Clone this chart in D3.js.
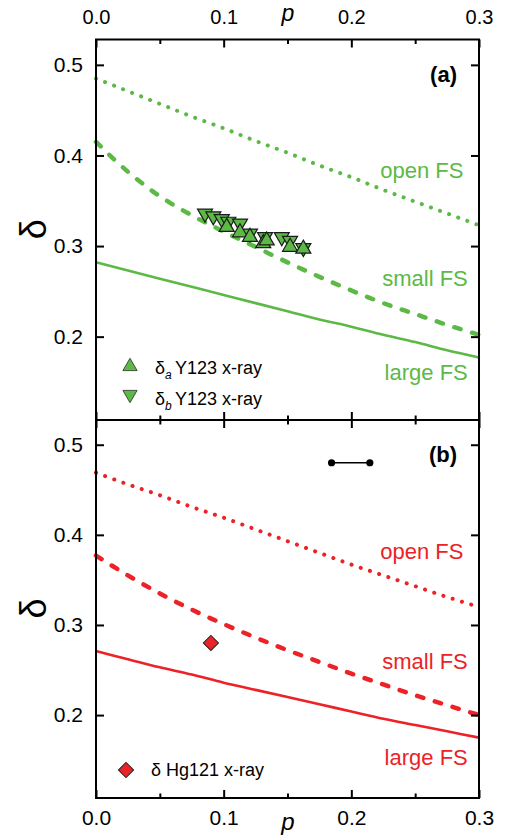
<!DOCTYPE html>
<html>
<head>
<meta charset="utf-8">
<script src="https://cdn.jsdelivr.net/npm/d3@7"></script>
<style>
  html, body { margin: 0; padding: 0; background: #fff; }
  svg text { font-family: "Liberation Sans", Arial, sans-serif; }
</style>
</head>
<body>
<svg id="chart" width="505" height="840"></svg>
<script>
// ---------------- data ----------------
const pGrid = [0, 0.025, 0.05, 0.075, 0.1, 0.125, 0.15, 0.175, 0.2, 0.225, 0.25, 0.275, 0.3];

// panel (a) – Y123 (green)
const greenOpenFS  = [0.485, 0.471, 0.457, 0.443, 0.430, 0.416, 0.403, 0.389, 0.376, 0.362, 0.349, 0.336, 0.323];
const greenSmallFS = [0.415, 0.382, 0.355, 0.334, 0.316, 0.299, 0.282, 0.266, 0.251, 0.237, 0.225, 0.213, 0.202];
const greenLargeFS = [0.282, 0.273, 0.264, 0.255, 0.246, 0.237, 0.228, 0.219, 0.211, 0.202, 0.194, 0.185, 0.177];

const y123A_p = [0.1024, 0.1128, 0.1206, 0.1310, 0.1337, 0.1520, 0.1624];
const y123A_d = [0.321, 0.315, 0.310, 0.303, 0.306, 0.299, 0.297];
const y123B_p = [0.0854, 0.0919, 0.0985, 0.1036, 0.1128, 0.1206, 0.1324, 0.1455, 0.1520, 0.1624];
const y123B_d = [0.336, 0.333, 0.330, 0.327, 0.325, 0.314, 0.310, 0.310, 0.306, 0.298];

// panel (b) – Hg121 (red)
const redOpenFS  = [0.469, 0.456, 0.444, 0.431, 0.419, 0.406, 0.393, 0.380, 0.367, 0.355, 0.343, 0.331, 0.320];
const redSmallFS = [0.377, 0.355, 0.335, 0.317, 0.301, 0.286, 0.272, 0.259, 0.246, 0.234, 0.222, 0.211, 0.200];
const redLargeFS = [0.271, 0.262, 0.253, 0.245, 0.236, 0.228, 0.220, 0.212, 0.204, 0.196, 0.189, 0.182, 0.175];

const hg121_p = [0.09];
const hg121_d = [0.28];

// error-bar indicator (p uncertainty)
const errP = [0.1995];
const errD = [0.48];
const errHalf = [0.015];

// ticks
const xMajorTicks = [0.0, 0.1, 0.2, 0.3];
const xMinorTicks = [0.05, 0.15, 0.25];
const yTicks = [0.2, 0.3, 0.4, 0.5];

// ---------------- drawing ----------------
const GREEN = "#5cb946";
const RED = "#ec2227";
const svg = d3.select("#chart");

const x = d3.scaleLinear().domain([0, 0.3]).range([96, 479]);
const yA = d3.scaleLinear().domain([0.108, 0.528]).range([420, 39.5]);
const yB = d3.scaleLinear().domain([0.108, 0.528]).range([798, 419.5]);

const zip = (a, b) => a.map((v, i) => [v, b[i]]);

function drawPanel(y, color, curves, top, bottom, showTopLabels, showBottomLabels) {
  const g = svg.append("g");
  const line = d3.line().x(d => x(d[0])).y(d => y(d[1])).curve(d3.curveMonotoneX);
  g.append("path").datum(zip(pGrid, curves.open))
    .attr("d", line).attr("fill", "none").attr("stroke", color)
    .attr("stroke-width", 4).attr("stroke-linecap", "round").attr("stroke-dasharray", "0.1 9.6");
  g.append("path").datum(zip(pGrid, curves.small))
    .attr("d", line).attr("fill", "none").attr("stroke", color)
    .attr("stroke-width", 4.5).attr("stroke-linecap", "round").attr("stroke-dasharray", "6.5 12");
  g.append("path").datum(zip(pGrid, curves.large))
    .attr("d", line).attr("fill", "none").attr("stroke", color)
    .attr("stroke-width", 2.6);

  const styleAxis = sel => {
    sel.select(".domain").remove();
    sel.selectAll(".tick line").attr("stroke", "#000").attr("stroke-width", 2);
    sel.selectAll(".tick text").attr("fill", "#000").attr("font-family", "Liberation Sans, Arial, sans-serif");
  };
  g.append("g").attr("transform", `translate(${x(0)},0)`)
    .call(d3.axisLeft(y).tickValues(yTicks).tickSize(-8).tickPadding(13).tickFormat(d3.format(".1f")))
    .call(styleAxis).call(s => s.selectAll(".tick text").attr("font-size", 21));
  g.append("g").attr("transform", `translate(${x(0.3)},0)`)
    .call(d3.axisRight(y).tickValues(yTicks).tickSize(-8).tickFormat(""))
    .call(styleAxis);
  g.append("g").attr("transform", `translate(0,${top})`)
    .call(d3.axisTop(x).tickValues(xMajorTicks).tickSize(-8).tickPadding(15.5)
      .tickFormat(showTopLabels ? d3.format(".1f") : ""))
    .call(styleAxis).call(s => s.selectAll(".tick text").attr("font-size", 20));
  g.append("g").attr("transform", `translate(0,${top})`)
    .call(d3.axisTop(x).tickValues(xMinorTicks).tickSize(-4.5).tickFormat(""))
    .call(styleAxis);
  g.append("g").attr("transform", `translate(0,${bottom})`)
    .call(d3.axisBottom(x).tickValues(xMajorTicks).tickSize(-8).tickPadding(12)
      .tickFormat(showBottomLabels ? d3.format(".1f") : ""))
    .call(styleAxis).call(s => s.selectAll(".tick text").attr("font-size", 21));
  g.append("g").attr("transform", `translate(0,${bottom})`)
    .call(d3.axisBottom(x).tickValues(xMinorTicks).tickSize(-4.5).tickFormat(""))
    .call(styleAxis);

  g.append("rect").attr("x", x(0)).attr("y", top)
    .attr("width", x(0.3) - x(0)).attr("height", bottom - top)
    .attr("fill", "none").attr("stroke", "#000").attr("stroke-width", 2);

  g.append("text")
    .attr("transform", `translate(46,${(top + bottom) / 2 - 0.5}) rotate(-90)`)
    .attr("text-anchor", "middle")
    .attr("font-family", "Liberation Serif, Times New Roman, serif")
    .attr("font-size", 36).attr("fill", "#000").text("δ");

  const lab = (txt, px, d) => g.append("text").attr("x", x(px)).attr("y", y(d))
    .attr("text-anchor", "end").attr("font-size", 22).attr("fill", color).text(txt);
  lab("open FS", 0.2878, curves.openLab);
  lab("small FS", 0.2912, curves.smallLab);
  lab("large FS", 0.2912, curves.largeLab);

  return g;
}

const gA = drawPanel(yA, GREEN,
  { open: greenOpenFS, small: greenSmallFS, large: greenLargeFS,
    openLab: 0.375, smallLab: 0.2555, largeLab: 0.152 },
  39.5, 420, true, false);
const gB = drawPanel(yB, RED,
  { open: redOpenFS, small: redSmallFS, large: redLargeFS,
    openLab: 0.3727, smallLab: 0.251, largeLab: 0.1445 },
  420, 798, false, true);

svg.append("text").attr("x", 457).attr("y", 82).attr("text-anchor", "end")
  .attr("font-size", 22).attr("font-weight", "bold").attr("fill", "#000").text("(a)");
svg.append("text").attr("x", 457).attr("y", 462).attr("text-anchor", "end")
  .attr("font-size", 22).attr("font-weight", "bold").attr("fill", "#000").text("(b)");

svg.append("text").attr("x", 288).attr("y", 21).attr("text-anchor", "middle")
  .attr("font-size", 23).attr("font-style", "italic").attr("fill", "#000").text("p");
svg.append("text").attr("x", 288).attr("y", 830).attr("text-anchor", "middle")
  .attr("font-size", 24).attr("font-style", "italic").attr("fill", "#000").text("p");

// markers panel (a)
const tri = d3.symbol().type(d3.symbolTriangle).size(98);
gA.append("g").selectAll("path.dn").data(zip(y123B_p, y123B_d)).join("path")
  .attr("class", "dn")
  .attr("d", tri)
  .attr("transform", d => `translate(${x(d[0])},${yA(d[1])}) rotate(180)`)
  .attr("fill", GREEN).attr("stroke", "#1b1b1b").attr("stroke-width", 1.2);
gA.append("g").selectAll("path.up").data(zip(y123A_p, y123A_d)).join("path")
  .attr("class", "up")
  .attr("d", tri)
  .attr("transform", d => `translate(${x(d[0])},${yA(d[1])})`)
  .attr("fill", GREEN).attr("stroke", "#1b1b1b").attr("stroke-width", 1.2);

// legend panel (a)
const legTri = d3.symbol().type(d3.symbolTriangle).size(88);
gA.append("path").attr("d", legTri).attr("transform", "translate(130,366.5)")
  .attr("fill", GREEN).attr("stroke", "#2a2a2a").attr("stroke-width", 0.8);
gA.append("path").attr("d", legTri).attr("transform", "translate(130,394.5) rotate(180)")
  .attr("fill", GREEN).attr("stroke", "#2a2a2a").attr("stroke-width", 0.8);
const legA1 = gA.append("text").attr("x", 155).attr("y", 374).attr("font-size", 18).attr("fill", "#000");
legA1.append("tspan").text("δ");
legA1.append("tspan").attr("font-size", 12).attr("font-style", "italic").attr("dy", 5).text("a");
legA1.append("tspan").attr("x", 175).attr("dy", -5).text("Y123 x-ray");
const legA2 = gA.append("text").attr("x", 155).attr("y", 405).attr("font-size", 18).attr("fill", "#000");
legA2.append("tspan").text("δ");
legA2.append("tspan").attr("font-size", 12).attr("font-style", "italic").attr("dy", 5).text("b");
legA2.append("tspan").attr("x", 175).attr("dy", -5).text("Y123 x-ray");

// markers panel (b)
const diamond = d3.symbol().type(d3.symbolSquare).size(115);
gB.append("g").selectAll("path").data(zip(hg121_p, hg121_d)).join("path")
  .attr("d", diamond)
  .attr("transform", d => `translate(${x(d[0])},${yB(d[1])}) rotate(45)`)
  .attr("fill", RED).attr("stroke", "#222").attr("stroke-width", 1);
gB.append("path").attr("d", diamond).attr("transform", "translate(126,770) rotate(45)")
  .attr("fill", RED).attr("stroke", "#222").attr("stroke-width", 1);
gB.append("text").attr("x", 151).attr("y", 776).attr("font-size", 18).attr("fill", "#000")
  .text("δ Hg121 x-ray");

// error bar
const eb = gB.append("g").selectAll("g").data(errP.map((p, i) => ({p, d: errD[i], h: errHalf[i]}))).join("g");
eb.append("line").attr("x1", d => x(d.p - d.h)).attr("x2", d => x(d.p + d.h))
  .attr("y1", d => yB(d.d)).attr("y2", d => yB(d.d)).attr("stroke", "#000").attr("stroke-width", 1.3);
eb.append("circle").attr("cx", d => x(d.p - d.h)).attr("cy", d => yB(d.d)).attr("r", 3.6).attr("fill", "#000");
eb.append("circle").attr("cx", d => x(d.p + d.h)).attr("cy", d => yB(d.d)).attr("r", 3.6).attr("fill", "#000");
</script>
</body>
</html>
